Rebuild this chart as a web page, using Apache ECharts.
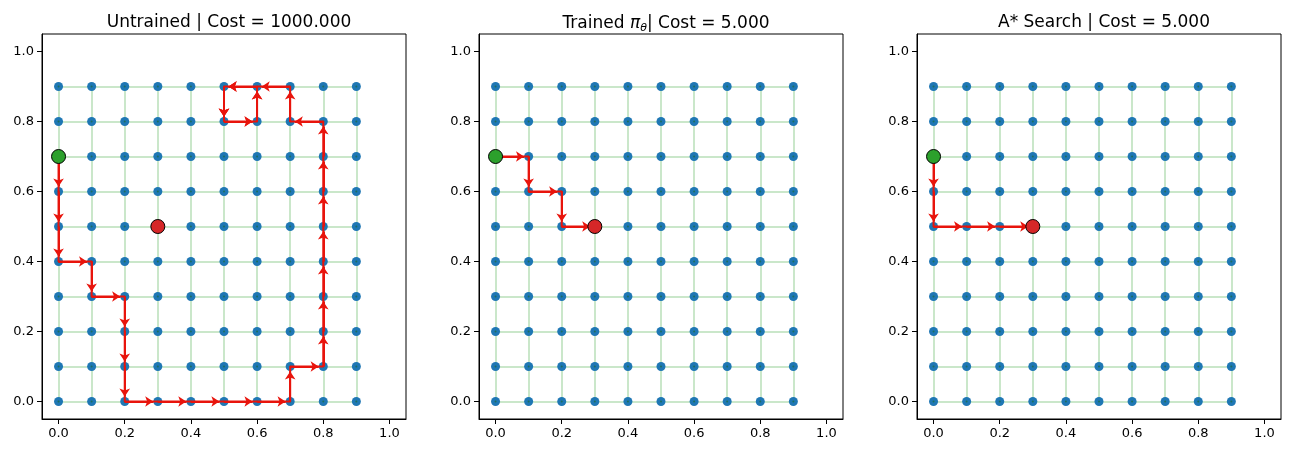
<!DOCTYPE html>
<html>
<head>
<meta charset="utf-8">
<script src="https://cdn.jsdelivr.net/npm/echarts@6/dist/echarts.min.js"></script>
<style>
html, body { margin: 0; padding: 0; background: #fff; }
#main { width: 1291px; height: 453px; }
</style>
</head>
<body>
<div id="main"></div>
<script>
// grid nodes
var gridXs = [0, 0.1, 0.2, 0.3, 0.4, 0.5, 0.6, 0.7, 0.8, 0.9];
var gridYs = [0, 0.1, 0.2, 0.3, 0.4, 0.5, 0.6, 0.7, 0.8, 0.9];
var tickValues = [0, 0.2, 0.4, 0.6, 0.8, 1.0];
var startNode = [0, 0.7];
var goalNode = [0.3, 0.5];

var panelTitles = ['Untrained | Cost = 1000.000', 'Trained {i|π}{s|θ}| Cost = 5.000', 'A* Search | Cost = 5.000'];

// paths walked in each panel
var untrainedPath = [[0, 0.7], [0, 0.6], [0, 0.5], [0, 0.4], [0.1, 0.4], [0.1, 0.3], [0.2, 0.3], [0.2, 0.2], [0.2, 0.1], [0.2, 0],
  [0.3, 0], [0.4, 0], [0.5, 0], [0.6, 0], [0.7, 0], [0.7, 0.1], [0.8, 0.1], [0.8, 0.2], [0.8, 0.3], [0.8, 0.4], [0.8, 0.5],
  [0.8, 0.6], [0.8, 0.7], [0.8, 0.8], [0.7, 0.8], [0.7, 0.9], [0.6, 0.9], [0.5, 0.9], [0.5, 0.8], [0.6, 0.8], [0.6, 0.9],
  [0.5, 0.9], [0.5, 0.8], [0.6, 0.8], [0.6, 0.9], [0.5, 0.9], [0.5, 0.8]];
var trainedPath = [[0, 0.7], [0.1, 0.7], [0.1, 0.6], [0.2, 0.6], [0.2, 0.5], [0.3, 0.5]];
var astarPath = [[0, 0.7], [0, 0.6], [0, 0.5], [0.1, 0.5], [0.2, 0.5], [0.3, 0.5]];
var paths = [untrainedPath, trainedPath, astarPath];

var gridLefts = [42, 479, 917];
var pathColor = '#e8140c';

var myChart = echarts.init(document.getElementById('main'));

function buildEdges() {
  var res = [];
  var xMax = gridXs[gridXs.length - 1], yMax = gridYs[gridYs.length - 1];
  for (var i = 0; i < gridYs.length; i++) res.push({ coords: [[gridXs[0], gridYs[i]], [xMax, gridYs[i]]] });
  for (var j = 0; j < gridXs.length; j++) res.push({ coords: [[gridXs[j], gridYs[0]], [gridXs[j], yMax]] });
  return res;
}

function buildNodes() {
  var res = [];
  for (var i = 0; i < gridXs.length; i++)
    for (var j = 0; j < gridYs.length; j++) res.push([gridXs[i], gridYs[j]]);
  return res;
}

// arrow heads sit a little before the target node
function buildArrows(path) {
  var res = [];
  for (var i = 1; i < path.length; i++) {
    var a = path[i - 1], b = path[i];
    res.push({ coords: [a, [a[0] + (b[0] - a[0]) * 0.86, a[1] + (b[1] - a[1]) * 0.86]] });
  }
  return res;
}

function axisOf(idx) {
  return {
    type: 'value',
    gridIndex: idx,
    min: -0.05,
    max: 1.05,
    splitLine: { show: false },
    axisLine: { show: true, onZero: false, lineStyle: { color: '#000', width: 1 } },
    axisTick: { show: true, length: 5, customValues: tickValues, lineStyle: { color: '#000' } },
    axisLabel: {
      customValues: tickValues,
      color: '#000',
      fontSize: 13,
      fontFamily: 'DejaVu Sans',
      margin: 8,
      formatter: function (v) { return v.toFixed(1); }
    }
  };
}

var grids = [], xAxes = [], yAxes = [], titles = [], series = [];
var nodes = buildNodes(), edges = buildEdges();

for (var p = 0; p < 3; p++) {
  grids.push({ left: gridLefts[p], top: 34, width: 364, height: 385, show: true, borderColor: '#000', borderWidth: 1 });
  xAxes.push(axisOf(p));
  yAxes.push(axisOf(p));
  titles.push({
    text: panelTitles[p],
    left: gridLefts[p] + 182,
    top: 9,
    textAlign: 'center',
    textStyle: {
      fontFamily: 'DejaVu Sans', fontSize: 17, fontWeight: 'normal', color: '#000',
      rich: {
        i: { fontFamily: 'DejaVu Sans', fontSize: 17, fontStyle: 'italic', color: '#000' },
        s: { fontFamily: 'DejaVu Sans', fontSize: 11, fontStyle: 'italic', color: '#000', padding: [9, 0, 0, 0] }
      }
    }
  });

  series.push({
    type: 'lines', coordinateSystem: 'cartesian2d', xAxisIndex: p, yAxisIndex: p, silent: true, z: 1,
    lineStyle: { color: '#2ca02c', opacity: 0.25, width: 2 },
    data: edges
  });
  series.push({
    type: 'scatter', xAxisIndex: p, yAxisIndex: p, silent: true, z: 2,
    symbolSize: 9, itemStyle: { color: '#1f77b4', opacity: 1 },
    data: nodes
  });
  series.push({
    type: 'scatter', xAxisIndex: p, yAxisIndex: p, silent: true, z: 3,
    symbolSize: 2, itemStyle: { color: '#1d6f5e', opacity: 1 },
    data: nodes
  });
  series.push({
    type: 'line', xAxisIndex: p, yAxisIndex: p, silent: true, z: 4,
    showSymbol: false, symbol: 'none',
    lineStyle: { color: pathColor, width: 2 },
    data: paths[p]
  });
  series.push({
    type: 'lines', coordinateSystem: 'cartesian2d', xAxisIndex: p, yAxisIndex: p, silent: true, z: 5,
    symbol: ['none', 'arrow'], symbolSize: 8,
    lineStyle: { color: pathColor, width: 2, opacity: 1 },
    data: buildArrows(paths[p])
  });
  series.push({
    type: 'scatter', xAxisIndex: p, yAxisIndex: p, silent: true, z: 6,
    symbolSize: 14, itemStyle: { color: '#2ca02c', borderColor: '#000', borderWidth: 1, opacity: 1 },
    data: [startNode]
  });
  series.push({
    type: 'scatter', xAxisIndex: p, yAxisIndex: p, silent: true, z: 6,
    symbolSize: 14, itemStyle: { color: '#d62728', borderColor: '#000', borderWidth: 1, opacity: 1 },
    data: [goalNode]
  });
}

var option = {
  animation: false,
  backgroundColor: '#fff',
  textStyle: { fontFamily: 'DejaVu Sans' },
  title: titles,
  grid: grids,
  xAxis: xAxes,
  yAxis: yAxes,
  series: series
};

myChart.setOption(option);
</script>
</body>
</html>
